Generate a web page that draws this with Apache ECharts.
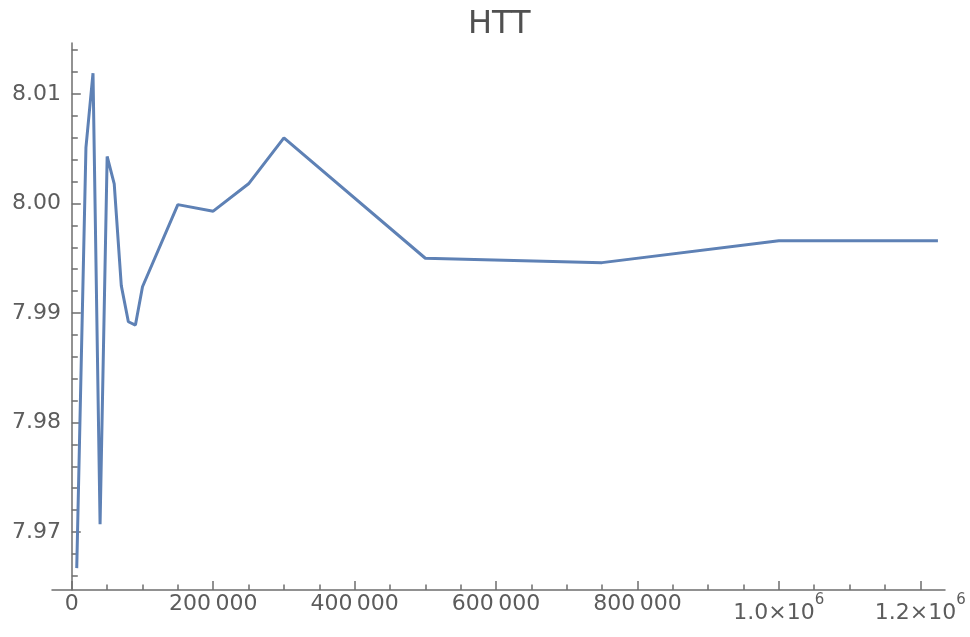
<!DOCTYPE html>
<html>
<head>
<meta charset="utf-8">
<script src="https://cdn.jsdelivr.net/npm/echarts@6/dist/echarts.min.js"></script>
<style>
html,body{margin:0;padding:0;background:#fff;}
#chart{width:970px;height:637px;}
</style>
</head>
<body>
<div id="chart"></div>
<script>
// ---- data ----
const titleText = 'HTT';
const xValues = [7000, 20000, 30000, 40000, 50000, 60000, 70000, 80000, 90000, 100000,
                 150000, 200000, 250000, 300000, 500000, 750000, 1000000, 1225000];
const yValues = [7.9667, 8.0051, 8.0119, 7.9707, 8.0043, 8.0018, 7.9925, 7.9892, 7.9889, 7.9924,
                 7.9999, 7.9993, 8.0018, 8.0060, 7.9950, 7.9946, 7.9966, 7.9966];
const xMajorTicks = [0, 200000, 400000, 600000, 800000, 1000000, 1200000];
const xMinorTicks = [50000, 100000, 150000, 250000, 300000, 350000, 450000, 500000, 550000,
                     650000, 700000, 750000, 850000, 900000, 950000, 1050000, 1100000, 1150000];
const yMajorTicks = [7.97, 7.98, 7.99, 8.00, 8.01];
const yMinorTicks = [7.966, 7.968, 7.972, 7.974, 7.976, 7.978, 7.982, 7.984, 7.986, 7.988,
                     7.992, 7.994, 7.996, 7.998, 8.002, 8.004, 8.006, 8.008, 8.012, 8.014];
const xRange = [-28000, 1235000];
const yRange = [7.9647, 8.01466];

const seriesData = xValues.map((x, i) => [x, yValues[i]]);

const axisColor = '#6e6e6e';
const labelColor = '#5c5c5c';
const fontFamily = 'DejaVu Sans';

function xLabel(v) {
  if (v === 0) return '0';
  if (v >= 1000000) {
    return '{m|' + (v / 1000000).toFixed(1) + '\u00d710}{s|6}';
  }
  const s = String(Math.round(v));
  return s.slice(0, s.length - 3) + '\u2009' + s.slice(s.length - 3);
}

const chart = echarts.init(document.getElementById('chart'), null, {renderer: 'canvas'});
chart.setOption({
  animation: false,
  backgroundColor: '#ffffff',
  title: {
    text: titleText,
    left: 463,
    top: 4,
    textStyle: {fontFamily: fontFamily, fontSize: 32, fontWeight: 'normal', color: '#505050'}
  },
  grid: {left: 52, right: 25, top: 43, bottom: 47, containLabel: false, outerBoundsMode: 'none'},
  xAxis: [
    {
      type: 'value', position: 'bottom', min: xRange[0], max: xRange[1],
      axisLine: {show: true, lineStyle: {color: axisColor, width: 1.5}},
      axisTick: {show: true, inside: true, length: 9, customValues: xMajorTicks,
                 lineStyle: {color: axisColor, width: 1.5}},
      axisLabel: {
        show: true, customValues: xMajorTicks, margin: 3, color: labelColor,
        fontFamily: fontFamily, fontSize: 22, formatter: xLabel,
        rich: {
          m: {fontFamily: fontFamily, fontSize: 22, color: labelColor},
          s: {fontFamily: fontFamily, fontSize: 15, color: labelColor, padding: [0, 0, 26, 0]}
        }
      },
      splitLine: {show: false}
    },
    {
      type: 'value', position: 'bottom', min: xRange[0], max: xRange[1],
      axisLine: {show: false},
      axisTick: {show: true, inside: true, length: 5.5, customValues: xMinorTicks,
                 lineStyle: {color: axisColor, width: 1.5}},
      axisLabel: {show: false},
      splitLine: {show: false}
    }
  ],
  yAxis: [
    {
      type: 'value', position: 'left', min: yRange[0], max: yRange[1],
      axisLine: {show: true, onZero: true, lineStyle: {color: axisColor, width: 1.5}},
      axisTick: {show: true, inside: true, length: 9, customValues: yMajorTicks,
                 lineStyle: {color: axisColor, width: 1.5}},
      axisLabel: {
        show: true, customValues: yMajorTicks, margin: -9, color: labelColor,
        fontFamily: fontFamily, fontSize: 22,
        formatter: v => v.toFixed(2)
      },
      splitLine: {show: false}
    },
    {
      type: 'value', position: 'left', min: yRange[0], max: yRange[1],
      axisLine: {show: false, onZero: true},
      axisTick: {show: true, inside: true, length: 6, customValues: yMinorTicks,
                 lineStyle: {color: axisColor, width: 1.5}},
      axisLabel: {show: false},
      splitLine: {show: false}
    }
  ],
  series: [{
    type: 'line',
    xAxisIndex: 0,
    yAxisIndex: 0,
    data: seriesData,
    showSymbol: false,
    symbol: 'none',
    clip: true,
    lineStyle: {color: '#5E81B5', width: 3},
    itemStyle: {color: '#5E81B5'}
  }]
});
</script>
</body>
</html>
